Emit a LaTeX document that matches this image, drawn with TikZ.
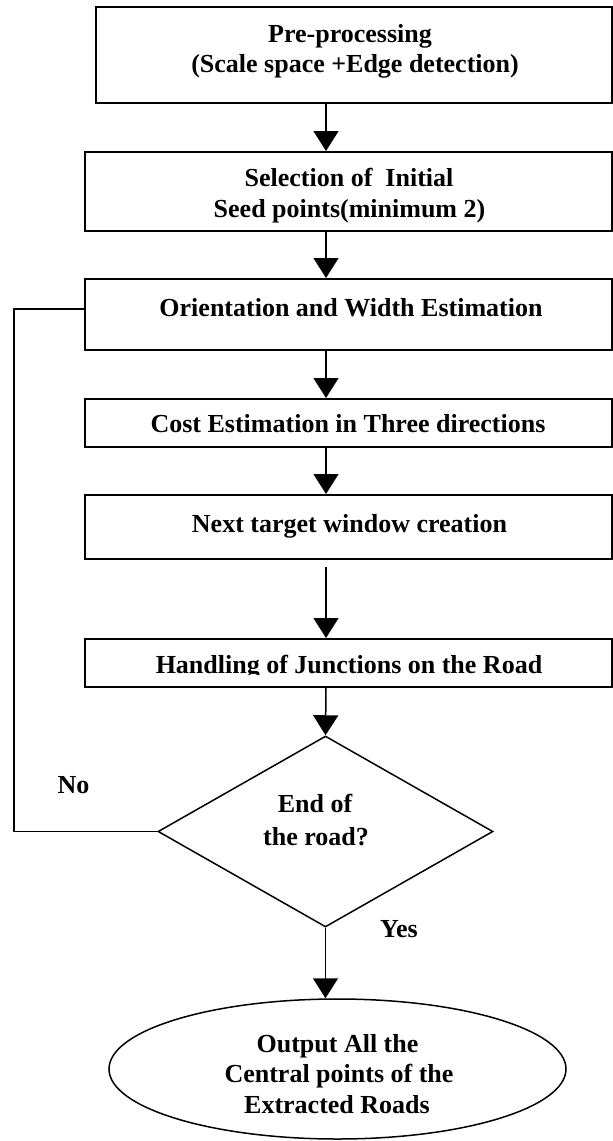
\documentclass[tikz,border=0pt]{standalone}
\usepackage{fontspec}
\setmainfont{Liberation Serif}
\usetikzlibrary{arrows.meta,shapes.geometric}
\begin{document}
\begin{tikzpicture}[x=1pt,y=1pt,
  box/.style={draw,line width=2pt,rectangle,inner sep=0pt},
  lbl/.style={anchor=base,inner sep=0pt,font=\bfseries\fontsize{26}{31}\selectfont},
  arr/.style={line width=1.5pt,-{Triangle[length=20pt,width=25pt]}},
  fb/.style={line width=1.8pt}]
\useasboundingbox (0,0) rectangle (613,-1141);
\coordinate (ax) at (326,0);
% boxes
\node[box,minimum width=516pt,minimum height=96pt] (b1) at (354,-55) {};
\node[box,minimum width=527pt,minimum height=79pt] (b2) at (348.5,-191.5) {};
\node[box,minimum width=527pt,minimum height=71pt] (b3) at (348.5,-314.5) {};
\node[box,minimum width=527pt,minimum height=48pt] (b4) at (348.5,-423) {};
\node[box,minimum width=527pt,minimum height=64pt] (b5) at (348.5,-527) {};
\node[box,minimum width=527pt,minimum height=48pt] (b6) at (348.5,-663) {};
\node[diamond,draw,line width=1.5pt,minimum width=335pt,minimum height=191pt,inner sep=0pt] (d) at (325.5,-831.5) {};
\node[ellipse,draw,line width=1.5pt,minimum width=457pt,minimum height=140pt,inner sep=0pt] (e) at (337.5,-1069) {};
% texts
\node[lbl] (t1a) at (350,-42) {Pre-processing};
\node[lbl] (t1b) at (355,-72) {(Scale space +Edge detection)};
\node[lbl] (t2a) at (349,-186) {Selection of\ \ Initial};
\node[lbl] (t2b) at (349.5,-217) {Seed points(minimum 2)};
\node[lbl] (t3) at (351,-316) {Orientation and Width Estimation};
\node[lbl] (t4) at (348,-432) {Cost Estimation in Three directions};
\node[lbl] (t5) at (349.5,-532) {Next target window creation};
\begin{scope}
\clip (86,-640) rectangle (611,-674.5);
\node[lbl] (t6) at (349,-673) {Handling of Junctions on the Road};
\end{scope}
\node[lbl] (td1) at (315,-812) {End of};
\node[lbl] (td2) at (316,-845) {the road?};
\node[lbl] (tno) at (73.5,-793) {No};
\node[lbl] (tyes) at (399,-937) {Yes};
\node[lbl] (te1) at (337.5,-1052) {Output All the};
\node[lbl] (te2) at (339,-1082) {Central points of the};
\node[lbl] (te3) at (337,-1113) {Extracted Roads};
% connectors
\draw[arr] (b1.south -| ax) -- (b2.north -| ax);
\draw[arr] (b2.south -| ax) -- (b3.north -| ax);
\draw[arr] (b3.south -| ax) -- (b4.north -| ax);
\draw[arr] (b4.south -| ax) -- (b5.north -| ax);
\coordinate (g5) at (326,-567);
\draw[arr] (g5) -- (b6.north -| ax);
\draw[arr] (b6.south -| ax) -- (d.north);
\draw[arr] (d.south) -- (d.south |- e.north);
\coordinate (fb1) at (14,-831.5);
\coordinate (fb2) at (14,-309);
\draw[fb] (d.west) -- (fb1) -- (fb2) -- (fb2 -| b3.west);
\end{tikzpicture}
\end{document}
